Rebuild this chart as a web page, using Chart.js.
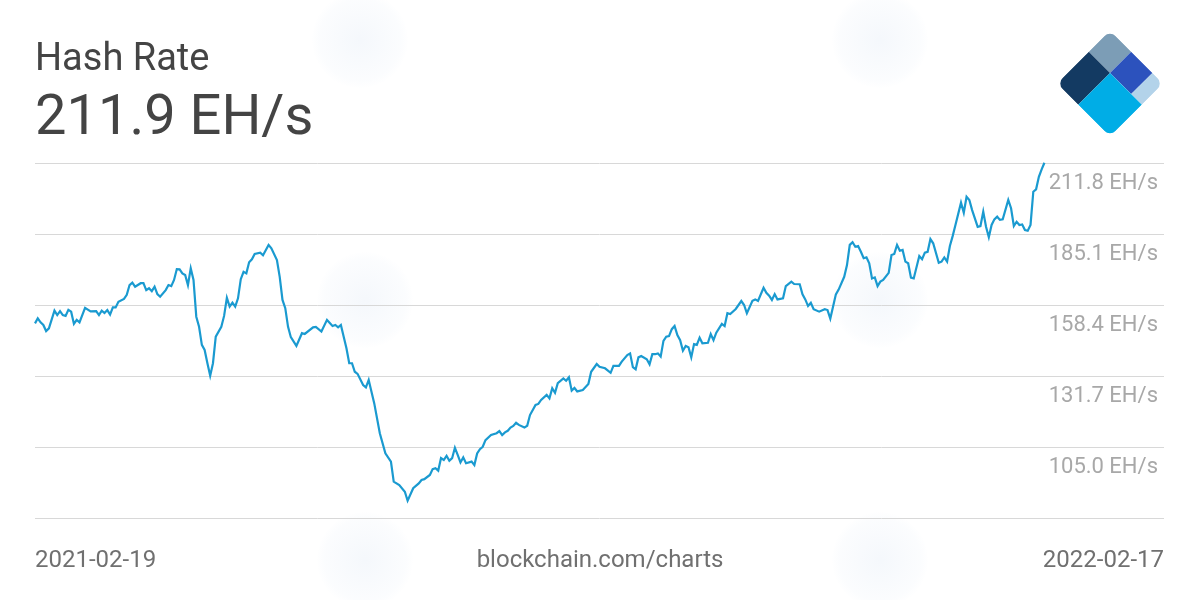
<!DOCTYPE html>
<html lang="en">
<head>
    <meta charset="UTF-8">
    <title>Hash Rate</title>
    <style>
        body { margin: 0; padding: 0; background: #fff; font-family: Roboto, Arial, sans-serif; }
        #wrap { position: relative; width: 1200px; height: 600px; overflow: hidden; }
        #chart { position: absolute; left: 0; top: 0; }
        .txt { position: absolute; line-height: 1; white-space: nowrap; }
        .wm { position: absolute; width: 96px; height: 96px; border-radius: 50%;
              background: radial-gradient(circle, rgba(232,239,248,0.45) 0%, rgba(240,245,251,0.25) 60%, rgba(255,255,255,0) 72%); }
    </style>
</head>
<body>
<div id="wrap">
    <!-- faint watermark marks -->
    <div class="wm" style="left:312px; top:-8px;"></div>
    <div class="wm" style="left:832px; top:-8px;"></div>
    <div class="wm" style="left:317px; top:252px;"></div>
    <div class="wm" style="left:832px; top:252px;"></div>
    <div class="wm" style="left:317px; top:512px;"></div>
    <div class="wm" style="left:832px; top:512px;"></div>

    <canvas id="chart" width="1200" height="600"></canvas>

    <div class="txt" style="left:35px; top:38px; font-size:38px; color:#444;">Hash Rate</div>
    <div class="txt" style="left:35px; top:87px; font-size:56px; color:#444;">211.9 EH/s</div>
    <div class="txt" style="left:35px; top:547px; font-size:24px; color:#707070;">2021-02-19</div>
    <div class="txt" style="left:0; width:1200px; text-align:center; top:547px; font-size:24px; color:#707070;">blockchain.com/charts</div>
    <div class="txt" style="right:36px; top:547px; font-size:24px; color:#707070;">2022-02-17</div>

    <!-- logo -->
    <svg style="position:absolute; left:0; top:0;" width="1200" height="600">
        <defs>
            <clipPath id="logoClip"><rect x="-37.5" y="-37.5" width="75" height="75" rx="8" ry="8"/></clipPath>
        </defs>
        <g transform="translate(1110 83.5) rotate(45)" clip-path="url(#logoClip)">
            <rect x="-37.5" y="-37.5" width="30" height="30" fill="#7c9db6"/>
            <rect x="-37.5" y="-7.5" width="30" height="45" fill="#133a62"/>
            <rect x="-7.5" y="-37.5" width="30" height="30" fill="#2c52bd"/>
            <rect x="22.5" y="-37.5" width="15" height="30" fill="#b3d3ea"/>
            <rect x="-7.5" y="-7.5" width="45" height="45" fill="#00ade6"/>
        </g>
    </svg>
</div>
<script src="https://cdn.jsdelivr.net/npm/chart.js"></script>
<script>
// dias desde 2021-02-19
const days = [0,1,2,3,4,5,7,8,9,10,11,12,13,14,15,16,18,20,22,23,24,25,26,27,28,29,30,32,33,34,35,36,38,39,40,41,42,43,44,45,47,48,49,50,51,52,53,54,55,56,57,58,59,60,61,62,63,64,65,67,68,69,70,71,72,73,74,75,76,77,78,79,81,82,84,85,87,88,89,90,91,92,94,96,97,100,101,103,105,107,108,109,110,112,113,114,115,116,118,119,120,122,124,126,128,129,131,133,134,136,138,139,140,142,143,144,145,146,147,148,149,150,151,152,153,154,155,157,158,159,160,161,162,164,166,167,168,169,170,171,172,173,174,176,177,178,180,181,182,184,185,186,187,188,190,191,192,193,194,195,197,199,200,202,203,205,207,208,210,211,213,214,215,216,217,218,220,221,222,223,224,225,226,227,228,229,230,231,232,233,234,235,236,237,238,239,240,242,243,244,245,247,248,249,250,252,254,255,256,258,259,260,262,263,264,265,266,267,269,270,272,273,275,276,277,278,279,280,282,284,285,286,287,288,289,291,292,293,294,295,296,297,298,299,300,301,302,303,304,305,307,308,309,310,311,312,313,314,315,316,318,319,320,321,322,323,325,326,327,328,329,330,331,333,334,335,336,337,339,340,341,342,343,344,345,346,347,348,350,351,352,353,354,355,356,357,358,359,360,361,362,363];
const hashRate = [151.5,153.4,151.9,150.9,148.6,149.6,156.3,154.6,156.1,154.6,154.3,156.6,155.9,151.3,152.8,151.9,157.3,156.0,156.1,154.6,156.3,155.4,156.5,154.8,157.5,157.5,159.6,160.7,162.2,165.9,166.8,165.3,166.6,166.6,164.0,164.7,163.6,165.3,162.5,161.5,164.0,165.9,165.5,167.8,171.9,171.8,170.3,169.7,165.9,172.2,167.8,154.0,150.2,143.4,141.5,136.5,131.8,136.5,146.5,150.2,154.3,161.1,157.8,159.3,157.8,160.9,168.1,170.9,170.3,174.5,175.6,177.6,178.1,177.1,181.0,179.7,175.3,169.0,160.3,157.2,150.2,146.3,143.0,147.8,147.5,150.0,150.2,148.4,152.8,150.5,150.9,150.0,150.9,142.1,136.5,136.5,133.3,132.5,128.3,127.4,130.2,121.4,110.2,102.6,99.5,92.0,90.7,88.2,84.8,89.5,91.3,92.6,92.9,94.5,96.7,97.0,96.1,100.8,100.1,101.7,99.8,100.8,104.7,102.0,99.2,101.1,98.9,99.5,98.2,102.6,104.2,105.1,107.6,109.5,110.2,111.0,109.5,110.5,111.1,112.3,112.9,114.1,113.3,112.3,113.0,117.0,120.8,121.2,122.7,124.6,123.3,127.1,125.4,129.0,130.8,129.9,131.2,126.2,127.2,125.9,126.4,128.7,133.3,136.2,135.2,134.6,132.9,135.5,135.5,137.1,139.6,140.2,135.0,134.2,138.7,139.2,138.0,136.1,139.9,139.9,140.2,139.0,144.9,146.5,146.7,149.3,150.5,147.1,145.2,141.2,143.0,142.5,138.7,143.7,143.4,146.1,144.0,144.2,147.5,145.2,148.0,151.3,150.5,155.3,155.0,156.9,159.9,158.4,155.3,160.0,160.5,159.9,164.9,163.0,161.9,160.3,162.5,160.5,160.9,165.5,167.2,166.3,166.2,162.4,160.5,158.0,159.2,156.8,155.9,156.8,156.5,153.3,157.8,162.4,164.2,169.0,173.4,181.0,182.0,180.3,180.6,178.4,176.0,176.3,174.1,168.4,168.8,165.5,167.2,167.8,170.5,177.2,177.6,181.0,178.8,179.1,174.7,174.1,168.7,168.4,176.8,175.6,178.1,178.4,183.2,181.6,174.3,174.7,176.3,174.7,180.6,184.3,188.5,196.9,193.1,199.1,197.9,194.1,187.8,188.1,193.5,187.8,183.9,188.5,190.6,191.6,190.4,190.6,197.9,194.8,188.1,189.7,188.5,188.7,186.6,186.3,188.5,201.0,201.9,206.6,209.4,211.9];
const yTicks = [78.3, 105.0, 131.7, 158.4, 185.1, 211.8];

const pontos = days.map((d, i) => ({ x: d, y: hashRate[i] }));

// rótulos do eixo y desenhados por baixo de cada linha de grade
const rotulosY = {
    id: 'rotulosY',
    afterDraw(chart) {
        const ctx = chart.ctx;
        const y = chart.scales.y;
        const area = chart.chartArea;
        ctx.save();
        ctx.font = '22px Roboto, Arial, sans-serif';
        ctx.fillStyle = '#a8a8a8';
        ctx.textAlign = 'right';
        ctx.textBaseline = 'middle';
        yTicks.forEach((v, i) => {
            if (i === 0) return;
            ctx.fillText(v.toFixed(1) + ' EH/s', area.right - 6, y.getPixelForValue(v) + 20);
        });
        ctx.restore();
    }
};

new Chart(document.getElementById('chart'), {
    type: 'line',
    data: {
        datasets: [{
            data: pontos,
            borderColor: '#1a9ad0',
            borderWidth: 2.2,
            pointRadius: 0,
            tension: 0,
            fill: false,
            clip: 6
        }]
    },
    options: {
        responsive: false,
        animation: false,
        layout: { padding: { left: 35, right: 36, top: 163, bottom: 82 } },
        plugins: { legend: { display: false }, tooltip: { enabled: false } },
        scales: {
            x: { type: 'linear', min: 0, max: 406, display: false },
            y: {
                min: 78.3,
                max: 211.8,
                afterBuildTicks: s => { s.ticks = yTicks.map(v => ({ value: v })); },
                afterFit: s => { s.width = 0; },
                ticks: { display: false },
                border: { display: false },
                grid: { color: '#d8d8d8', lineWidth: 1, drawTicks: false }
            }
        }
    },
    plugins: [rotulosY]
});
</script>
</body>
</html>
